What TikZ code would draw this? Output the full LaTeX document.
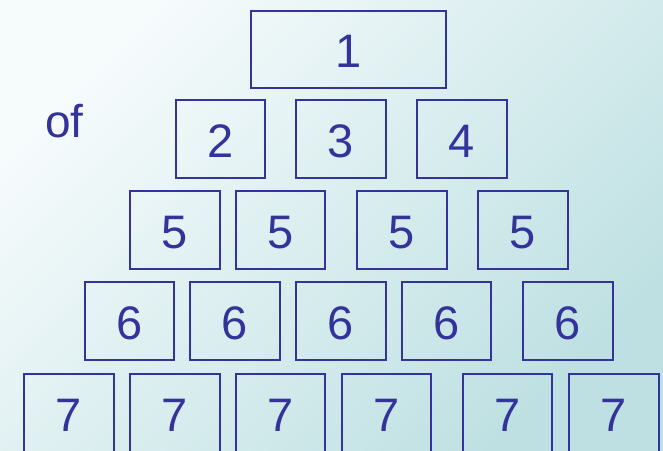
\documentclass[tikz,border=0pt]{standalone}
\usepackage{fontspec}
\setmainfont{Liberation Sans}
\definecolor{navy}{RGB}{51,51,153}
\definecolor{bgA}{RGB}{246,251,252}
\definecolor{bgB}{RGB}{190,224,226}
\tikzset{
  box/.style={draw=navy, line width=2pt, minimum width=89.5pt, minimum height=78pt,
    inner sep=0pt, text=navy, font=\fontsize{47}{56}\selectfont, text height=36.7pt, text depth=0pt},
  widebox/.style={box, minimum width=195pt, minimum height=77pt},
  lbl/.style={text=navy, font=\fontsize{46}{54}\selectfont, inner sep=0pt}
}
\begin{document}
\begin{tikzpicture}[x=1pt,y=-1pt]
\useasboundingbox (0,0) rectangle (663,450);
\clip (0,0) rectangle (663,450);
\shade[shading=axis, top color=bgA, bottom color=bgB, shading angle=45] (0,0) rectangle (663,450);
% row 1
\node[widebox] (b1) at (348.5,49) {1};
% row 2
\node[lbl, anchor=base west] (of) at (45,137) {of};
\node[box] (b2) at (220.5,139) {2};
\node[box] (b3) at (341,139) {3};
\node[box] (b4) at (462,139) {4};
% row 3
\node[box] (c1) at (175,230.3) {5};
\node[box] (c2) at (280.5,230.3) {5};
\node[box] (c3) at (402,230.3) {5};
\node[box] (c4) at (523,230.3) {5};
% row 4
\node[box] (d1) at (129.5,321) {6};
\node[box] (d2) at (235,321) {6};
\node[box] (d3) at (341,321) {6};
\node[box] (d4) at (446.7,321) {6};
\node[box] (d5) at (568,321) {6};
% row 5 (cut off at the bottom edge)
\node[box] (e1) at (69,413) {7};
\node[box] (e2) at (175,413) {7};
\node[box] (e3) at (280.5,413) {7};
\node[box] (e4) at (386.5,413) {7};
\node[box] (e5) at (507.5,413) {7};
\node[box] (e6) at (614,413) {7};
\end{tikzpicture}
\end{document}
